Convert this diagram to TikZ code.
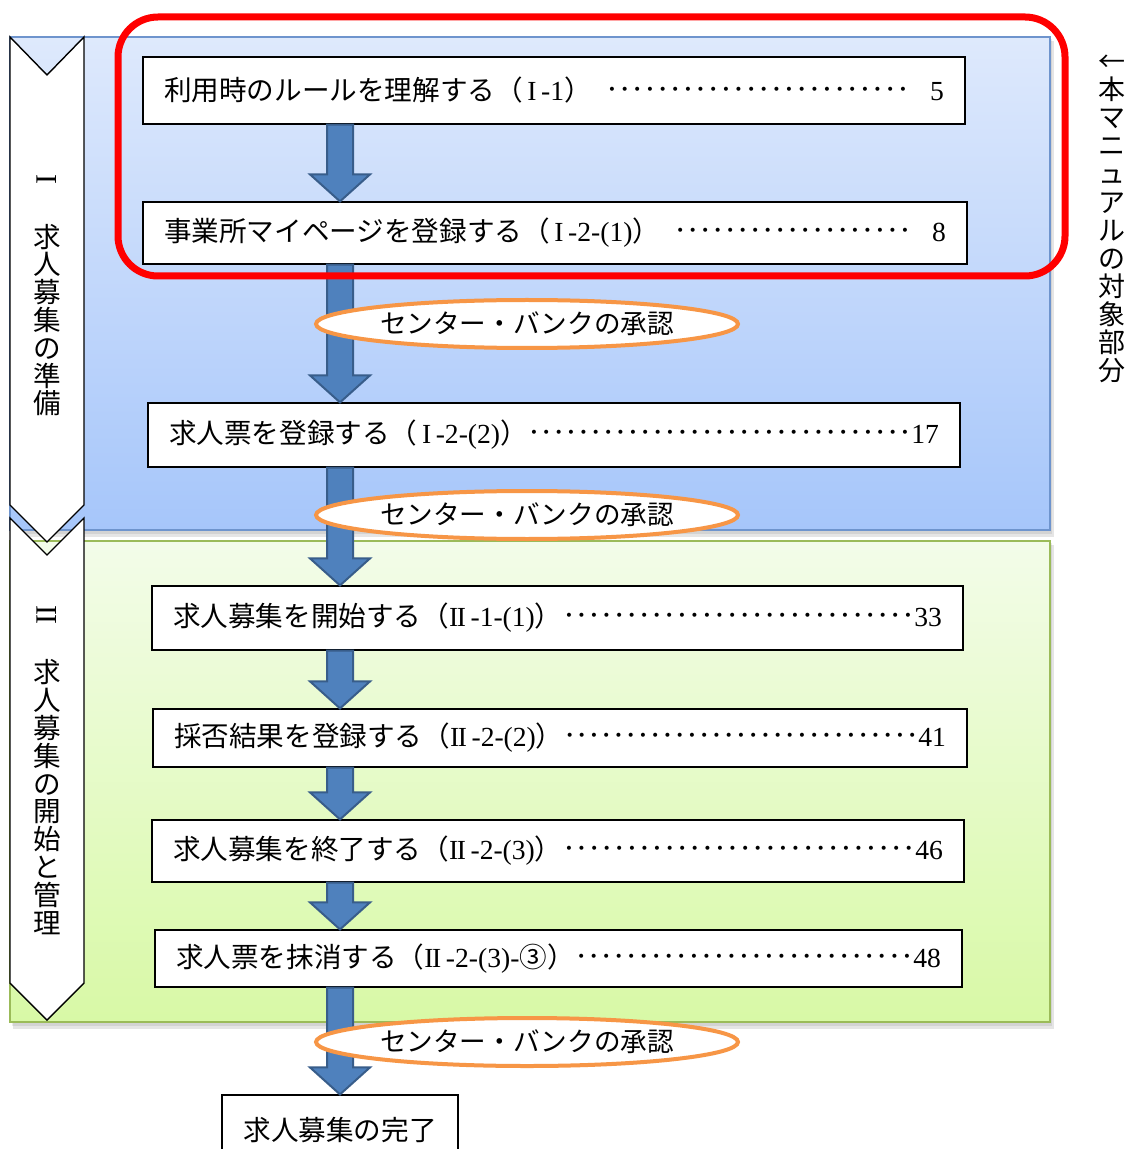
\documentclass[tikz,border=0pt]{standalone}
\usepackage{fontspec}
\setmainfont{Liberation Serif}
\newfontfamily\cjk{Noto Sans CJK JP}
\usetikzlibrary{calc,shapes.geometric}
\definecolor{bluetop}{RGB}{222,233,252}
\definecolor{bluebot}{RGB}{166,198,250}
\definecolor{blueedge}{RGB}{110,148,205}
\definecolor{greentop}{RGB}{243,252,233}
\definecolor{greenbot}{RGB}{216,249,166}
\definecolor{greenedge}{RGB}{155,187,89}
\definecolor{arrowfill}{RGB}{79,129,189}
\definecolor{arrowedge}{RGB}{56,93,138}
\definecolor{approvaledge}{RGB}{247,150,70}
\definecolor{scopered}{RGB}{255,0,0}
\newcommand\J[1]{{\cjk #1}}
\newcommand\RII{I\kern-0.7ptI}
\newcommand\dl{\xleaders\hbox to 6.1pt{\hss{\fontsize{17}{17}\selectfont·}\hss}\hfill}
\newcommand\entry[3]{\hbox to #1{#2\dl#3}}
\newcommand\barrow[2]{\draw[blockarrow] let \p1=(#1.south -| axis), \p2=(#2.north -| axis) in
  (\x1-6.5pt,\y1) -- (\x1+6.5pt,\y1) -- (\x1+6.5pt,\y2+13.5pt) -- (\x1+15pt,\y2+13.5pt) -- (\x1,\y2)
  -- (\x1-15pt,\y2+13.5pt) -- (\x1-6.5pt,\y2+13.5pt) -- cycle;}
\tikzset{
  entrybox/.style={draw=black, line width=0.6pt, fill=white, inner sep=0pt,
    font=\fontsize{13.8}{16}\selectfont},
  approval/.style={ellipse, draw=approvaledge, line width=2pt, fill=white,
    minimum width=211pt, minimum height=24pt, inner sep=0pt,
    font=\cjk\fontsize{13.3}{15}\selectfont},
  blockarrow/.style={fill=arrowfill, draw=arrowedge, line width=1pt, line join=miter},
  chevron/.style={fill=white, draw=black, line width=0.7pt},
  vstack/.style={align=center, inner sep=0pt, font=\cjk\fontsize{13.8}{13.9}\selectfont},
  romannum/.style={rotate=90, inner sep=0pt, font=\fontsize{15}{15}\selectfont},
}
\begin{document}
\begin{tikzpicture}[x=0.5pt,y=-0.5pt]
\clip (0,0) rectangle (1136,1149);
\fill[white] (0,0) rectangle (1136,1149);
\coordinate (axis) at (340,0);
% panel shadows
\fill[black,opacity=0.10] (13,41) rectangle (1054,537);
\fill[black,opacity=0.08] (12,39) rectangle (1052,534);
\fill[black,opacity=0.10] (13,545) rectangle (1054,1029);
\fill[black,opacity=0.08] (12,543) rectangle (1052,1026);
% panels
\path[top color=bluetop, bottom color=bluebot, draw=blueedge, line width=0.8pt]
  (10,37) rectangle (1050,530);
\path[top color=greentop, bottom color=greenbot, draw=greenedge, line width=1pt]
  (10,541) rectangle (1050,1022);
% chevrons
\draw[chevron] (10,37) -- (47,75) -- (84,37) -- (84,505) -- (47,542) -- (10,505) -- cycle;
\draw[chevron] (10,518) -- (47,555) -- (84,518) -- (84,983) -- (47,1020) -- (10,983) -- cycle;
\node[romannum] (n1) at (47,180) {I};
\node[vstack] (t1) at (47,320) {求\\人\\募\\集\\の\\準\\備};
\node[romannum] (n2) at (47,615) {\RII};
\node[vstack] (t2) at (47,797) {求\\人\\募\\集\\の\\開\\始\\と\\管\\理};
% entry boxes
\node[entrybox, minimum width=411pt, minimum height=33.5pt] (b1) at (554,90.5)
  {\entry{390pt}{\J{利用時のルールを理解する（}\,I\,-1\J{）}\enspace}{\enspace\ 5}};
\node[entrybox, minimum width=412pt, minimum height=31pt] (b2) at (555,233)
  {\entry{391pt}{\J{事業所マイページを登録する（}\,I\,-2-(1)\J{）}\enspace}{\enspace\ 8}};
\node[entrybox, minimum width=406pt, minimum height=32pt] (b3) at (554,435)
  {\entry{385pt}{\J{求人票を登録する（}\,I\,-2-(2)\J{）}}{17}};
\node[entrybox, minimum width=405.5pt, minimum height=32pt] (b4) at (557.5,618)
  {\entry{384.5pt}{\J{求人募集を開始する（}\RII\,-1-(1)\J{）}}{33}};
\node[entrybox, minimum width=407pt, minimum height=29pt] (b5) at (560,738)
  {\entry{386pt}{\J{採否結果を登録する（}\RII\,-2-(2)\J{）}}{41}};
\node[entrybox, minimum width=406pt, minimum height=31pt] (b6) at (558,851)
  {\entry{385pt}{\J{求人募集を終了する（}\RII\,-2-(3)\J{）}}{46}};
\node[entrybox, minimum width=403.5pt, minimum height=28.5pt] (b7) at (558.5,958.5)
  {\entry{382.5pt}{\J{求人票を抹消する（}\RII\,-2-(3)-\J{③）}}{48}};
\node[entrybox, minimum width=118pt, minimum height=35pt] (b8) at (340,1130)
  {\J{求人募集の完了}};
% block arrows
\barrow{b1}{b2}
\barrow{b2}{b3}
\barrow{b3}{b4}
\barrow{b4}{b5}
\barrow{b5}{b6}
\barrow{b6}{b7}
\barrow{b7}{b8}
% approvals
\node[approval] (e1) at (527,324) {センター・バンクの承認};
\node[approval] (e2) at (527,515) {センター・バンクの承認};
\node[approval] (e3) at (527,1042) {センター・バンクの承認};
% scope frame
\draw[scopered, line width=3.5pt, rounded corners=20pt] (118,17) rectangle (1065,276);
% note
\node[vstack, font=\cjk\fontsize{13.5}{14.05}\selectfont] (note) at (1112,219)
  {←\\本\\マ\\ニ\\ュ\\ア\\ル\\の\\対\\象\\部\\分};
\end{tikzpicture}
\end{document}
